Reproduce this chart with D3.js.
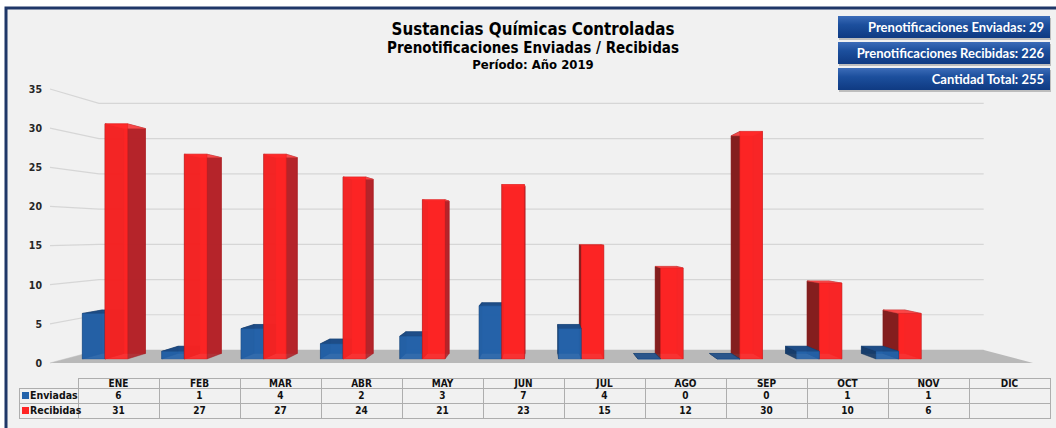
<!DOCTYPE html>
<html>
<head>
<meta charset="utf-8">
<script src="https://cdn.jsdelivr.net/npm/d3@7"></script>
<style>
  body { margin: 0; background: #fff; }
  svg { display: block; }
  .ttl { font-family: "DejaVu Sans Condensed", "DejaVu Sans", sans-serif; font-weight: bold; fill: #000; }
  .tbl { font-family: "DejaVu Sans Condensed", "DejaVu Sans", sans-serif; font-weight: bold; font-size: 10px; fill: #111; }
  .btn { font-family: Lato, "Open Sans", sans-serif; font-weight: bold; font-size: 13px; fill: #fff; }
</style>
</head>
<body>
<div id="container"></div>
<script>
// Chart data
var months = ['ENE', 'FEB', 'MAR', 'ABR', 'MAY', 'JUN', 'JUL', 'AGO', 'SEP', 'OCT', 'NOV', 'DIC'];
var seriesNames = ['Enviadas', 'Recibidas'];
var enviadas = [6, 1, 4, 2, 3, 7, 4, 0, 0, 1, 1, null];
var recibidas = [31, 27, 27, 24, 21, 23, 15, 12, 30, 10, 6, null];
var yTicks = [0, 5, 10, 15, 20, 25, 30, 35];
var titles = ['Sustancias Químicas Controladas', 'Prenotificaciones Enviadas / Recibidas', 'Período: Año 2019'];
var summaryLabels = ['Prenotificaciones Enviadas', 'Prenotificaciones Recibidas', 'Cantidad Total'];

var totEnv = d3.sum(enviadas), totRec = d3.sum(recibidas);
var summaryValues = [totEnv, totRec, totEnv + totRec];

// Plot constants
var width = 1056,
height = 428;

// fake perspective: camera centre and how much the back wall shrinks
var cx = 540, cy = 233, k = 1 / 0.9 - 1;
var zFront = 0.29, zBack = 0.71;

var colours = {
  Enviadas: { front: '#2363ab', back: '#1d5290', top: '#1c4b86', near: '#184274', far: '#143966' },
  Recibidas: { front: '#ff2424', back: '#d81c1c', top: '#ff4a4a', near: '#b0232a', far: '#7a1d1d' }
};

var svg = d3.select('#container').append('svg').attr('width', width).attr('height', height);

// scales in "front plane" pixels
var x = d3.scaleBand().domain(months).range([50, 1033]);
var y = d3.scaleLinear().domain([0, 35]).range([363, 89]);
var inner = d3.scaleBand().domain(seriesNames).range([-0.285, 0.285]);

function proj(px, v, z) {
  var s = 1 / (1 + k * z);
  return [cx + s * (px - cx), cy + s * (y(v) - cy)];
}
function poly(pts) {
  return 'M' + pts.map(function (p) { return p[0].toFixed(2) + ',' + p[1].toFixed(2); }).join('L') + 'Z';
}

// frame
svg.append('rect').attr('x', 6).attr('y', 8).attr('width', 1060).attr('height', 430)
  .attr('fill', '#f1f1f1').attr('stroke', '#1f3768').attr('stroke-width', 3);

// gradient for the summary boxes
var grad = svg.append('defs').append('linearGradient').attr('id', 'btnGrad')
  .attr('x1', 0).attr('y1', 0).attr('x2', 0).attr('y2', 1);
grad.append('stop').attr('offset', '0%').attr('stop-color', '#3c6cb8');
grad.append('stop').attr('offset', '40%').attr('stop-color', '#1c4f9d');
grad.append('stop').attr('offset', '100%').attr('stop-color', '#0f3a82');

// titles
var titleSizes = [16.8, 15, 13];
var titleY = [35, 52.5, 69];
svg.selectAll('text.ttl').data(titles).enter().append('text')
  .attr('class', 'ttl')
  .attr('x', 533)
  .attr('y', function (d, i) { return titleY[i]; })
  .attr('text-anchor', 'middle')
  .style('font-size', function (d, i) { return titleSizes[i] + 'px'; })
  .text(function (d) { return d; });

// summary boxes
var btn = svg.selectAll('g.btnbox').data(summaryLabels).enter().append('g')
  .attr('class', 'btnbox')
  .attr('transform', function (d, i) { return 'translate(838,' + (16 + i * 26) + ')'; });
btn.append('rect').attr('x', 1).attr('y', 2).attr('width', 212).attr('height', 22).attr('fill', '#7f7f7f').attr('opacity', 0.45);
btn.append('rect').attr('width', 212).attr('height', 22).attr('fill', 'url(#btnGrad)');
btn.append('text').attr('class', 'btn').attr('x', 206).attr('y', 15.5).attr('text-anchor', 'end')
  .text(function (d, i) { return d + ': ' + summaryValues[i]; });

// gridlines: left wall edge then across the back wall
var xLeft = x.range()[0], xRight = x.range()[1];
svg.append('g').selectAll('path').data(yTicks).enter().append('path')
  .attr('d', function (v) {
    var a = proj(xLeft, v, 0), b = proj(xLeft, v, 1), c = proj(xRight, v, 1);
    return 'M' + a + 'L' + b + 'L' + c;
  })
  .attr('fill', 'none').attr('stroke', '#d6d6d6').attr('stroke-width', 1.2);

// floor
svg.append('path')
  .attr('d', poly([proj(xLeft, 0, 0), proj(xRight, 0, 0), proj(xRight, 0, 1), proj(xLeft, 0, 1)]))
  .attr('fill', '#b9b9b9');

// y axis on the front plane
svg.append('g')
  .attr('transform', 'translate(44,0)')
  .call(d3.axisLeft(y).tickValues(yTicks).tickSize(0).tickPadding(2))
  .call(function (g) { g.select('.domain').remove(); })
  .call(function (g) {
    g.selectAll('text').attr('fill', '#262626')
      .style('font-family', '"DejaVu Sans Condensed", "DejaVu Sans", sans-serif')
      .style('font-weight', 'bold').style('font-size', '10.5px');
  });

// build the boxes
var boxes = [];
months.forEach(function (m, i) {
  [enviadas[i], recibidas[i]].forEach(function (v, j) {
    if (v === null) return;
    var s = seriesNames[j];
    var step = x.step();
    var x0 = x(m) + step / 2 + inner(s) * step;
    var x1 = x0 + inner.bandwidth() * step;
    boxes.push({ series: s, value: v, x0: x0, x1: x1, mid: (x0 + x1) / 2 });
  });
});
// farthest from the camera drawn first
boxes.sort(function (a, b) { return Math.abs(b.mid - cx) - Math.abs(a.mid - cx); });

function faces(b) {
  var v = b.value, x0 = b.x0, x1 = b.x1, z0 = zFront, z1 = zBack;
  var c = colours[b.series];
  var left = [proj(x0, 0, z0), proj(x0, 0, z1), proj(x0, v, z1), proj(x0, v, z0)];
  var right = [proj(x1, 0, z0), proj(x1, 0, z1), proj(x1, v, z1), proj(x1, v, z0)];
  var rightOfCam = b.mid > cx;
  var list = [];
  list.push({ d: poly([proj(x0, 0, z1), proj(x1, 0, z1), proj(x1, v, z1), proj(x0, v, z1)]), fill: c.back });
  if (rightOfCam) {
    list.push({ d: poly(right), fill: c.near });
    list.push({ d: poly(left), fill: c.far });
  } else {
    list.push({ d: poly(left), fill: c.far });
    list.push({ d: poly(right), fill: c.near });
  }
  list.push({ d: poly([proj(x0, v, z0), proj(x1, v, z0), proj(x1, v, z1), proj(x0, v, z1)]), fill: c.top });
  list.push({ d: poly([proj(x0, 0, z0), proj(x1, 0, z0), proj(x1, v, z0), proj(x0, v, z0)]), fill: c.front });
  return list;
}

svg.append('g').selectAll('g').data(boxes).enter().append('g')
  .attr('class', 'bar')
  .each(function (b) {
    d3.select(this).selectAll('path').data(faces(b)).enter().append('path')
      .attr('d', function (f) { return f.d; })
      .attr('fill', function (f) { return f.fill; })
      .attr('fill-opacity', 0.9)
      .attr('stroke', function (f) { return d3.color(f.fill).darker(0.4); })
      .attr('stroke-opacity', 0.55)
      .attr('stroke-width', 0.8);
  });

// data table
var tx = d3.scaleBand().domain(months).range([78, 1050]);
var rowTop = [378, 388, 403], rowBot = [388, 403, 418];
var table = svg.append('g');
var cells = [];
months.forEach(function (m) {
  for (var r = 0; r < 3; r++) cells.push({ x: tx(m), w: tx.bandwidth(), r: r });
});
for (var r = 1; r < 3; r++) cells.push({ x: 19, w: 59, r: r });
table.selectAll('rect').data(cells).enter().append('rect')
  .attr('x', function (d) { return d.x + 0.5; })
  .attr('y', function (d) { return rowTop[d.r] + 0.5; })
  .attr('width', function (d) { return d.w; })
  .attr('height', function (d) { return rowBot[d.r] - rowTop[d.r]; })
  .attr('fill', 'none').attr('stroke', '#aeaeae');

table.selectAll('text.mon').data(months).enter().append('text')
  .attr('class', 'tbl mon')
  .attr('x', function (m) { return tx(m) + tx.bandwidth() / 2; })
  .attr('y', 387).attr('text-anchor', 'middle')
  .text(function (m) { return m; });

[enviadas, recibidas].forEach(function (vals, j) {
  table.selectAll('text.v' + j).data(vals).enter().append('text')
    .attr('class', 'tbl v' + j)
    .attr('x', function (v, i) { return tx(months[i]) + tx.bandwidth() / 2; })
    .attr('y', rowBot[j + 1] - 4)
    .attr('text-anchor', 'middle')
    .text(function (v) { return v === null ? '' : v; });
  table.append('rect').attr('x', 22).attr('y', rowTop[j + 1] + 4).attr('width', 7).attr('height', 7)
    .attr('fill', colours[seriesNames[j]].front);
  table.append('text').attr('class', 'tbl').attr('x', 30).attr('y', rowBot[j + 1] - 4)
    .style('font-size', '10.5px')
    .text(seriesNames[j]);
});
</script>
</body>
</html>
